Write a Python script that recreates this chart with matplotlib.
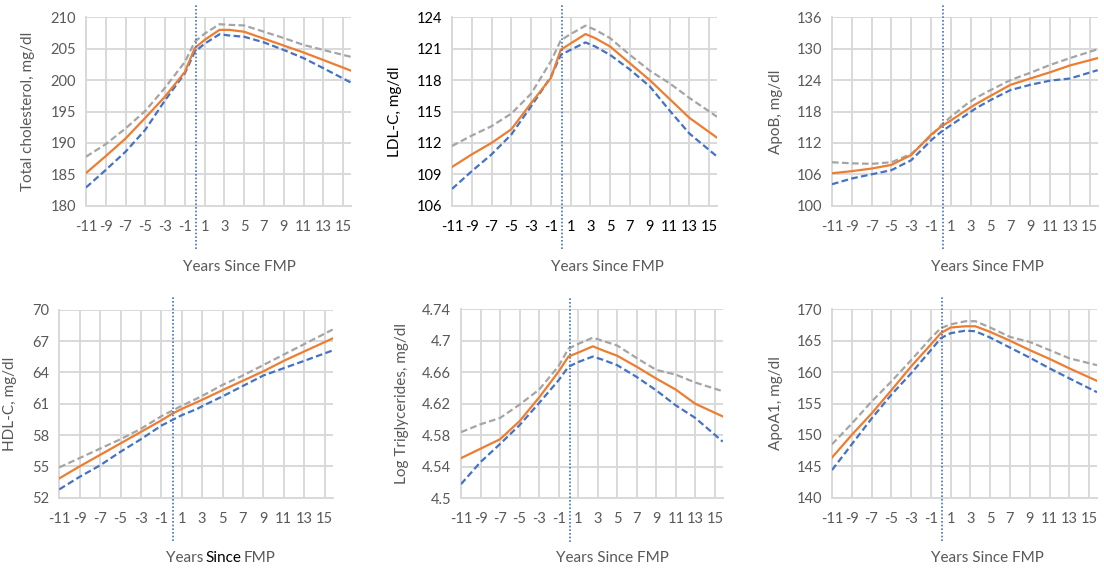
import matplotlib
matplotlib.use("Agg")
import matplotlib.pyplot as plt
import matplotlib.transforms as mtransforms

plt.rcParams['font.family'] = ['Lato', 'DejaVu Sans']

# years since final menstrual period (FMP)
years = [-11, -9, -7, -5, -3, -1, 0, 1, 2.5, 3.5, 5, 7, 9, 11, 13, 15.8]
tick_years = [-11, -9, -7, -5, -3, -1, 1, 3, 5, 7, 9, 11, 13, 15]

# Total cholesterol
tc_mid = [185.2, 187.9, 190.7, 194.0, 197.4, 201.3, 205.1, 206.4, 208.0, 208.0, 207.7, 206.6, 205.5, 204.4, 203.2, 201.5]
tc_hi = [187.8, 189.8, 192.3, 195.1, 198.8, 202.9, 206.1, 207.4, 208.9, 208.8, 208.7, 207.7, 206.7, 205.6, 204.8, 203.7]
tc_lo = [182.9, 185.7, 188.6, 192.1, 196.8, 201.1, 204.5, 205.8, 207.3, 207.1, 206.9, 206.0, 204.8, 203.5, 201.9, 199.6]

# LDL-C
ldl_mid = [109.7, 110.9, 112.0, 113.3, 115.8, 118.2, 120.9, 121.5, 122.4, 122.0, 121.2, 119.6, 118.0, 116.2, 114.4, 112.5]
ldl_hi = [111.7, 112.7, 113.6, 114.8, 116.7, 119.8, 121.8, 122.4, 123.2, 122.8, 122.0, 120.4, 118.9, 117.7, 116.3, 114.5]
ldl_lo = [107.6, 109.3, 110.9, 112.8, 115.5, 118.3, 120.4, 120.9, 121.6, 121.2, 120.4, 119.0, 117.4, 115.1, 112.9, 110.7]

# ApoB
apob_mid = [106.2, 106.6, 107.1, 107.8, 109.7, 113.6, 115.1, 116.3, 118.2, 119.4, 121.0, 123.1, 124.3, 125.5, 126.8, 128.2]
apob_hi = [108.3, 108.1, 108.0, 108.3, 109.9, 113.3, 115.4, 117.0, 119.3, 120.6, 122.1, 124.0, 125.4, 126.9, 128.2, 129.9]
apob_lo = [104.1, 105.2, 106.0, 106.8, 108.7, 112.5, 114.1, 115.4, 117.3, 118.6, 120.2, 122.1, 123.1, 123.9, 124.3, 125.9]

# HDL-C
hdl_mid = [53.85, 55.0, 56.1, 57.2, 58.3, 59.4, 60.0, 60.5, 61.15, 61.6, 62.3, 63.2, 64.1, 65.1, 66.0, 67.25]
hdl_hi = [54.9, 55.8, 56.7, 57.6, 58.6, 59.8, 60.3, 60.8, 61.5, 62.0, 62.8, 63.7, 64.7, 65.7, 66.7, 68.1]
hdl_lo = [52.8, 54.0, 55.1, 56.4, 57.6, 58.9, 59.4, 59.9, 60.5, 61.0, 61.7, 62.7, 63.7, 64.4, 65.1, 66.1]

# Log triglycerides
tg_mid = [4.551, 4.563, 4.575, 4.598, 4.628, 4.661, 4.680, 4.685, 4.693, 4.688, 4.681, 4.667, 4.652, 4.638, 4.620, 4.604]
tg_hi = [4.584, 4.594, 4.602, 4.619, 4.638, 4.668, 4.690, 4.696, 4.704, 4.700, 4.694, 4.678, 4.663, 4.657, 4.647, 4.636]
tg_lo = [4.518, 4.546, 4.569, 4.593, 4.621, 4.650, 4.667, 4.673, 4.680, 4.676, 4.669, 4.654, 4.637, 4.618, 4.602, 4.572]

# ApoA1
apoa_mid = [146.4, 150.0, 153.4, 157.1, 160.9, 164.4, 166.2, 167.1, 167.3, 167.3, 166.4, 165.0, 163.5, 162.1, 160.6, 158.6]
apoa_hi = [148.5, 151.8, 155.3, 158.5, 161.9, 165.4, 167.0, 167.6, 168.1, 168.1, 167.1, 165.6, 164.8, 163.5, 162.2, 161.1]
apoa_lo = [144.4, 148.5, 152.6, 156.4, 159.8, 163.5, 165.4, 166.2, 166.6, 166.5, 165.5, 163.9, 162.3, 160.6, 159.0, 156.8]

panels = [
    ("Total cholesterol, mg/dl", tc_mid, tc_hi, tc_lo, [180, 185, 190, 195, 200, 205, 210], ["180", "185", "190", "195", "200", "205", "210"]),
    ("LDL-C, mg/dl", ldl_mid, ldl_hi, ldl_lo, [106, 109, 112, 115, 118, 121, 124], ["106", "109", "112", "115", "118", "121", "124"]),
    ("ApoB, mg/dl", apob_mid, apob_hi, apob_lo, [100, 106, 112, 118, 124, 130, 136], ["100", "106", "112", "118", "124", "130", "136"]),
    ("HDL-C, mg/dl", hdl_mid, hdl_hi, hdl_lo, [52, 55, 58, 61, 64, 67, 70], ["52", "55", "58", "61", "64", "67", "70"]),
    ("Log Triglycerides, mg/dl", tg_mid, tg_hi, tg_lo, [4.5, 4.54, 4.58, 4.62, 4.66, 4.7, 4.74], ["4.5", "4.54", "4.58", "4.62", "4.66", "4.7", "4.74"]),
    ("ApoA1, mg/dl", apoa_mid, apoa_hi, apoa_lo, [140, 145, 150, 155, 160, 165, 170], ["140", "145", "150", "155", "160", "165", "170"]),
]

W, H = 1104, 571
# plot area boxes in pixels: left, top, right, bottom
boxes = [(86, 17.3, 351, 205.7), (452, 17.3, 717, 205.7), (832, 17.3, 1097.7, 205.7),
         (59.3, 309.7, 332.7, 497.7), (461, 309.3, 722.7, 498.3), (832, 309.3, 1097, 497.7)]
ylabel_x = [35, 402, 783, 17, 409, 783]
xlabel_pos = [(239, 267), (607, 267), (987, 267), (220, 558), (612, 558), (987, 558)]

orange = "#ED7D31"
gray = "#A5A5A5"
blue = "#4472C4"
grid = "#D9D9D9"
txt = "#595959"
fs = 11
tfs = 10.5

fig = plt.figure(figsize=(W / 100, H / 100), dpi=100)

for i, (ylab, mid, hi, lo, yt, ytl) in enumerate(panels):
    l, t, r, b = boxes[i]
    ax = fig.add_axes([l / W, 1 - b / H, (r - l) / W, (b - t) / H])
    c = "black" if i == 1 else txt

    ax.plot(years, hi, color=gray, lw=1.6, dashes=(3, 1.5), zorder=3)
    ax.plot(years, lo, color=blue, lw=1.6, dashes=(3, 1.5), zorder=3)
    ax.plot(years, mid, color=orange, lw=1.6, zorder=4)

    ax.set_xlim(-11, 15.8)
    ax.set_ylim(yt[0], yt[-1])
    ax.set_xticks(tick_years)
    ax.set_xticklabels([str(v) for v in tick_years])
    ax.set_yticks(yt)
    ax.set_yticklabels(ytl)
    ax.tick_params(length=0, labelsize=tfs, labelcolor=c)
    ax.tick_params(axis="x", pad=10)
    ax.tick_params(axis="y", pad=7)
    ax.grid(True, color=grid, lw=1.4)
    ax.set_axisbelow(True)
    for s in ["top", "right"]:
        ax.spines[s].set_visible(False)
    for s in ["left", "bottom"]:
        ax.spines[s].set_color(grid)
        ax.spines[s].set_linewidth(1.4)

    ax.set_ylabel(ylab, fontsize=fs, color=c)
    ax.yaxis.set_label_coords((ylabel_x[i] - l) / (r - l), 0.5)

    # FMP marker, runs past the plot area
    trans = mtransforms.blended_transform_factory(ax.transData, ax.transAxes)
    ax.plot([0.15, 0.15], [-0.23, 1.065], transform=trans, color=blue,
            lw=1.2, ls=(0, (1, 1.2)), clip_on=False, zorder=5)

    xx, yy = xlabel_pos[i]
    if i == 3:
        fig.text(203 / W, 1 - yy / H, "Years", ha="right", va="center", fontsize=fs, color=txt)
        fig.text(223 / W, 1 - yy / H, "Since", ha="center", va="center", fontsize=fs, color="black")
        fig.text(244 / W, 1 - yy / H, "FMP", ha="left", va="center", fontsize=fs, color=txt)
    else:
        fig.text(xx / W, 1 - yy / H, "Years Since FMP", ha="center", va="center", fontsize=fs, color=txt)

fig.savefig("out.png", dpi=100)
